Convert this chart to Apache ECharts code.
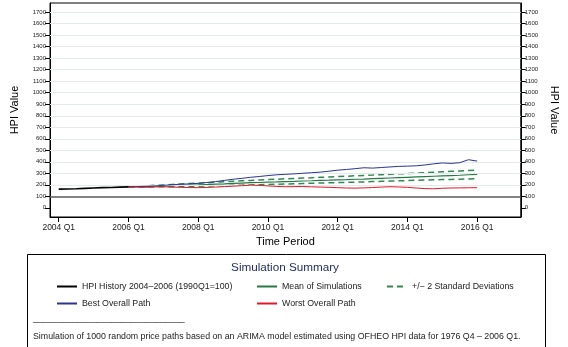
<!DOCTYPE html>
<html>
<head>
<meta charset="utf-8">
<script src="https://cdn.jsdelivr.net/npm/echarts@6/dist/echarts.min.js"></script>
<style>
html,body{margin:0;padding:0;background:#fff;}
#chart{width:568px;height:347px;}
</style>
</head>
<body>
<div id="chart"></div>
<script>
// Quarter labels 2004 Q1 .. 2016 Q1
var quarters = [];
for (var y = 2004; y <= 2016; y++) { for (var q = 1; q <= 4; q++) { quarters.push(y + ' Q' + q); } }
quarters = quarters.slice(0, 49);

var xTickLabels = ['2004 Q1','2006 Q1','2008 Q1','2010 Q1','2012 Q1','2014 Q1','2016 Q1'];
var yTicks = [0,100,200,300,400,500,600,700,800,900,1000,1100,1200,1300,1400,1500,1600,1700];
var gridValues = [200,300,400,500,600,700,800,900,1000,1100,1200,1300,1400,1500,1600,1700];
var refLine = 100;

// HPI history 2004 Q1 - 2006 Q1
var historyStart = '2004 Q1';
var hpiHistory = [162,164,166,169,172,175,177,180,182];

// Simulations 2006 Q1 - 2016 Q1
var simStart = '2006 Q1';
var meanSim = [182,184,186,188,190,193,195,197,199,202,205,208,212,215,218,220,223,225,228,230,233,235,238,240,243,245,248,250,253,256,259,262,265,268,271,274,277,280,283,287,290];
var upperSD = [182,187,191,195,199,203,207,211,214,218,222,226,230,234,238,241,245,248,252,255,258,261,265,268,271,274,278,281,284,288,291,295,298,302,305,309,313,317,320,324,328];
var lowerSD = [182,181,181,182,183,184,185,186,187,189,191,193,195,197,199,201,203,205,207,209,211,213,215,217,219,221,223,225,228,230,232,234,237,239,241,243,245,247,249,251,253];
var bestPath = [182,185,187,190,195,200,205,208,212,220,228,238,248,256,265,272,280,287,291,295,300,305,310,318,327,333,340,348,345,350,355,360,362,365,372,382,390,386,392,418,406];
var worstPath = [182,180,178,181,183,180,178,176,175,177,180,184,188,192,197,195,190,186,183,184,185,182,180,178,175,172,171,173,176,180,183,181,178,172,167,165,170,172,173,174,175];

function toData(start, vals) {
  var s = quarters.indexOf(start);
  return vals.map(function (v, i) { return [s + i, v]; });
}

var FONT = 'Liberation Sans';
var chart = echarts.init(document.getElementById('chart'), null, {renderer: 'canvas'});

var xTickValues = xTickLabels.map(function (l) { return quarters.indexOf(l); });

var yAxisCommon = {
  type: 'value', min: -80, max: 1780,
  axisLine: {show: true, onZero: false, lineStyle: {color: '#000', width: 1}},
  axisTick: {show: true, length: 5, customValues: yTicks, lineStyle: {color: '#000', width: 1}},
  axisLabel: {customValues: yTicks, fontSize: 6, color: '#222', fontFamily: FONT, margin: 4,
    formatter: function (v) { return String(v); }},
  splitLine: {show: false},
  name: 'HPI Value', nameLocation: 'middle',
  nameTextStyle: {fontSize: 11, color: '#000', fontFamily: FONT}
};

var legendCommon = {
  orient: 'vertical', top: 282, itemWidth: 20, itemHeight: 10, itemGap: 8, padding: 0,
  itemStyle: {opacity: 0},
  textStyle: {fontSize: 8.8, color: '#222', fontFamily: FONT}
};

var option = {
  backgroundColor: '#fff',
  animation: false,
  grid: {left: 50, right: 47, top: 3, bottom: 130, show: true, borderColor: '#000', borderWidth: 1, backgroundColor: '#fff'},
  xAxis: {
    type: 'value', min: -1, max: 53,
    axisLine: {show: true, onZero: false, lineStyle: {color: '#000', width: 1}},
    axisTick: {show: true, length: 5, customValues: xTickValues, lineStyle: {color: '#000', width: 1}},
    axisLabel: {customValues: xTickValues, fontSize: 8.5, color: '#222', fontFamily: FONT, margin: 6,
      formatter: function (v) { return quarters[v]; }},
    splitLine: {show: false},
    name: 'Time Period', nameLocation: 'middle', nameGap: 17,
    nameTextStyle: {fontSize: 11, color: '#000', fontFamily: FONT}
  },
  yAxis: [
    Object.assign({}, yAxisCommon, {position: 'left', nameGap: 30, nameRotate: 90}),
    Object.assign({}, yAxisCommon, {position: 'right', nameGap: 26, nameRotate: -90})
  ],
  legend: [
    Object.assign({}, legendCommon, {left: 56, data: ['HPI History 2004–2006 (1990Q1=100)', 'Best Overall Path']}),
    Object.assign({}, legendCommon, {left: 256, data: ['Mean of Simulations', 'Worst Overall Path']}),
    Object.assign({}, legendCommon, {left: 386, data: ['+/− 2 Standard Deviations']})
  ],
  graphic: [
    {type: 'rect', left: 27, top: 254, z: 0, shape: {width: 518, height: 100},
      style: {fill: '#fff', stroke: '#000', lineWidth: 1}},
    {type: 'text', x: 285, y: 268, z: 1,
      style: {text: 'Simulation Summary', fontSize: 11.7, fill: '#1b2a5e', fontFamily: FONT, textAlign: 'center', textVerticalAlign: 'middle'}},
    {type: 'text', left: 33, top: 314, z: 1,
      style: {text: '_______________________________', fontSize: 8.8, fill: '#222', fontFamily: FONT}},
    {type: 'text', x: 33, y: 337, z: 1,
      style: {text: 'Simulation of 1000 random price paths based on an ARIMA model estimated using OFHEO HPI data for 1976 Q4 – 2006 Q1.', fontSize: 8.8, fill: '#222', fontFamily: FONT, textVerticalAlign: 'middle'}}
  ],
  series: [
    {name: 'gridlines', type: 'line', data: [], silent: true, z: 1,
      markLine: {silent: true, symbol: 'none', label: {show: false},
        lineStyle: {color: '#e3ebed', width: 1, type: 'solid'},
        data: gridValues.map(function (v) { return {yAxis: v}; })}},
    {name: 'ref', type: 'line', data: [], silent: true, z: 2,
      markLine: {silent: true, symbol: 'none', label: {show: false},
        lineStyle: {color: '#5a5a5a', width: 1.6, type: 'solid'},
        data: [{yAxis: refLine}]}},
    {name: '+/− 2 Standard Deviations', type: 'line', data: toData(simStart, upperSD), symbol: 'none', z: 3,
      lineStyle: {color: '#2e8a50', width: 1.5, type: [6, 4]}, itemStyle: {color: '#2e8a50'}},
    {name: '+/− 2 Standard Deviations', type: 'line', data: toData(simStart, lowerSD), symbol: 'none', z: 3,
      lineStyle: {color: '#2e8a50', width: 1.5, type: [6, 4]}, itemStyle: {color: '#2e8a50'}},
    {name: 'Mean of Simulations', type: 'line', data: toData(simStart, meanSim), symbol: 'none', z: 4,
      lineStyle: {color: '#237a45', width: 1.2}, itemStyle: {color: '#3f9a66'}},
    {name: 'Best Overall Path', type: 'line', data: toData(simStart, bestPath), symbol: 'none', z: 5,
      lineStyle: {color: '#2a3590', width: 1}, itemStyle: {color: '#2a3590'}},
    {name: 'Worst Overall Path', type: 'line', data: toData(simStart, worstPath), symbol: 'none', z: 5,
      lineStyle: {color: '#e0182a', width: 1}, itemStyle: {color: '#e0182a'}},
    {name: 'HPI History 2004–2006 (1990Q1=100)', type: 'line', data: toData(historyStart, hpiHistory), symbol: 'none', z: 6,
      lineStyle: {color: '#000', width: 1.6}, itemStyle: {color: '#000'}}
  ]
};
chart.setOption(option);
</script>
</body>
</html>
